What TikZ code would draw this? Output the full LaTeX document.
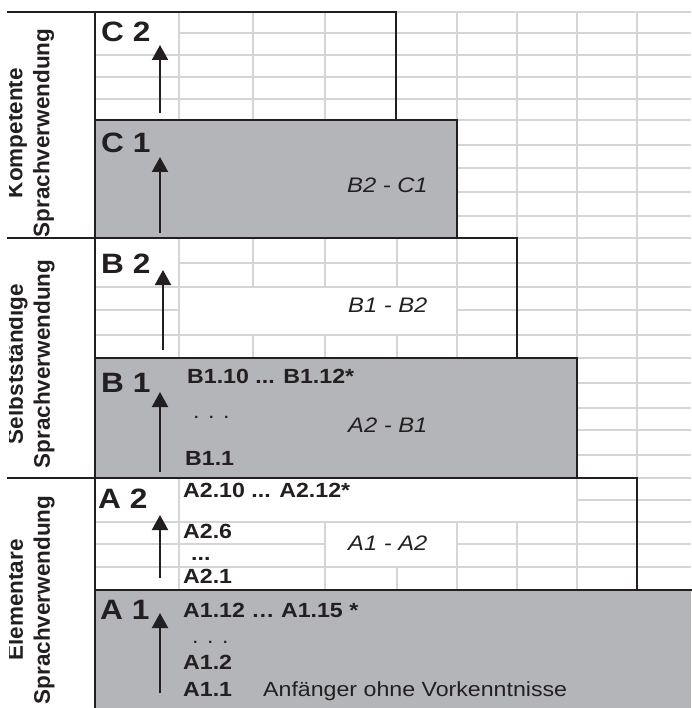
\documentclass[tikz,border=0pt]{standalone}
\usepackage{fontspec}
\setmainfont{Liberation Sans}[FakeStretch=1.13]
\newfontfamily\sidefont{Liberation Sans}
\usetikzlibrary{arrows.meta}
\definecolor{tinte}{HTML}{231F20}
\definecolor{stufengrau}{HTML}{B4B5B8}
\definecolor{rastergrau}{HTML}{D4D5D7}
\tikzset{
  raster/.style={
    draw=rastergrau,
    line width=2.2pt
  },
  rand/.style={
    draw=tinte,
    line width=2.8pt,
    line cap=rect
  },
  stufe/.style={
    fill=stufengrau
  },
  niveau/.style={
    anchor=base west,
    inner sep=0pt,
    text=tinte,
    font=\bfseries\fontsize{28}{32}\selectfont
  },
  kann/.style={
    anchor=base west,
    inner sep=0pt,
    text=tinte,
    font=\bfseries\fontsize{20.5}{24}\selectfont
  },
  bereich/.style={
    anchor=base west,
    inner sep=0pt,
    text=tinte,
    font=\itshape\fontsize{21}{25}\selectfont
  },
  seite/.style={
    rotate=90,
    align=center,
    inner sep=0pt,
    text=tinte,
    font=\sidefont\bfseries\fontsize{22.5}{27}\selectfont
  },
  arrow/.style={
    -{Triangle[length=15pt,width=16pt]},
    line width=2pt,
    tinte
  }
}

\begin{document}
\begin{tikzpicture}[x=1pt,y=-1pt]
\useasboundingbox (0,0) rectangle (691,708);
% raster
\foreach \y/\a/\b in {12/396/691, 33/179/691, 55/95/691, 77/95/691, 99/95/691,
    120/457/691, 145/457/691, 168/457/691, 192/457/691, 216/457/691,
    238/517/691, 263/179/691, 287/95/691, 310/95/179, 310/457/691, 335/95/691,
    358/577/691, 383/577/691, 408/577/691, 430/577/691, 455/577/691,
    478/637/691, 500/577/691, 522/95/691, 544/95/325, 544/457/691, 567/95/691}
  \draw[raster] (\a,\y) -- (\b,\y);
\foreach \x/\a/\b in {179/12/120, 179/238/358, 179/478/590,
    253/12/120, 253/238/287, 253/335/358,
    325/12/120, 325/238/287, 325/335/358, 325/522/590,
    397/238/287, 397/335/358, 397/567/590,
    457/12/120, 457/238/358, 457/522/590,
    517/12/238, 517/522/590, 577/12/358, 577/478/590, 637/12/478}
  \draw[raster] (\x,\a) -- (\x,\b);
% stufen
\fill[stufe] (95,120) rectangle (457,238);
\fill[stufe] (95,358) rectangle (577,478);
\fill[stufe] (95,590) rectangle (691,708);
\draw[rand] (8,12) -- (396,12) -- (396,120);
\draw[rand] (95,120) -- (457,120) -- (457,238);
\draw[rand] (8,238) -- (517,238) -- (517,358);
\draw[rand] (95,358) -- (577,358) -- (577,478);
\draw[rand] (8,478) -- (637,478) -- (637,590);
\draw[rand] (95,590) -- (691,590);
\draw[rand] (95,12) -- (95,708);
% seitentitel
\begin{scope}
\clip (9.5,0) rectangle (93,708);
\node[seite] (kompetent) at (30.5,133) {Kompetente\\Sprachverwendung};
\node[seite] (selbst) at (30.5,364) {Selbstständige\\Sprachverwendung};
\node[seite] (elementar) at (30.5,600) {Elementare\\Sprachverwendung};
\end{scope}
% niveaus
\node[niveau] (c2) at (101,42) {C 2};
\node[niveau] (c1) at (101,153) {C 1};
\node[niveau] (b2) at (101,273) {B 2};
\node[niveau] (b1) at (101,392) {B 1};
\node[niveau] (a2) at (98,508) {A 2};
\node[niveau] (a1) at (100,619) {A 1};
\foreach \n/\x/\a/\b in {c2/160/113/45, c1/160/233/157, b2/163/350/270,
    b1/160/472/392, a2/160/578/515, a1/160/693/613} {
  \coordinate (\n-fuss) at (\x,\a);
  \coordinate (\n-ziel) at (\x,\b);
  \draw[arrow] (\n-fuss) -- (\n-ziel);
}
% bereiche
\node[bereich] (b2c1) at (347,193) {B2 - C1};
\node[bereich] (b1b2) at (348,312) {B1 - B2};
\node[bereich] (a2b1) at (348,432) {A2 - B1};
\node[bereich] (a1a2) at (348,550) {A1 - A2};
% kannbeschreibungen
\node[kann] (b1oben) at (187,383) {B1.10 ... B1.12*};
\node[kann, font=\fontsize{20.5}{24}\selectfont] (b1mitte) at (193,418) {. . .};
\node[kann] (b1unten) at (185,465) {B1.1};
\node[kann] (a2oben) at (183,497) {A2.10 ... A2.12*};
\node[kann] (a2sechs) at (183,538) {A2.6};
\node[kann] (a2mitte) at (191,560) {...};
\node[kann] (a2unten) at (183,583) {A2.1};
\node[kann] (a1oben) at (183,617) {A1.12 … A1.15 *};
\node[kann, font=\fontsize{20.5}{24}\selectfont] (a1mitte) at (192,643) {. . .};
\node[kann] (a1zwei) at (183,669) {A1.2};
\node[kann] (a1eins) at (183,696) {A1.1};
\node[kann, font=\fontsize{20.5}{24}\selectfont] (anfang) at (263,696) {Anfänger ohne Vorkenntnisse};
\end{tikzpicture}
\end{document}
